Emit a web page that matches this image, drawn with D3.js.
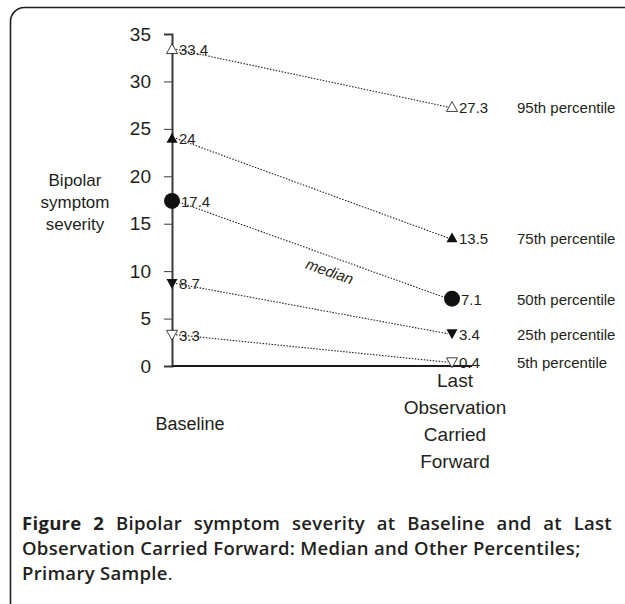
<!DOCTYPE html>
<html>
<head>
<meta charset="utf-8">
<script src="https://cdn.jsdelivr.net/npm/d3@7"></script>
<style>
  body { margin: 0; background: #fff; }
  svg { display: block; }
</style>
</head>
<body>
<div id="chart-container"></div>
<script>
// percentile series, top to bottom
const percentiles = ['95th percentile', '75th percentile', '50th percentile', '25th percentile', '5th percentile'];
const baselineValues = [33.4, 24, 17.4, 8.7, 3.3];
const locfValues = [27.3, 13.5, 7.1, 3.4, 0.4];
const markerTypes = ['openUp', 'up', 'circle', 'down', 'openDown'];
const timepoints = ['Baseline', 'LOCF'];
const yTicks = [0, 5, 10, 15, 20, 25, 30, 35];

const width = 625;
const height = 604;
const axisFont = 'Arial, "Liberation Sans", sans-serif';
const ink = '#231f20';

const svg = d3.create('svg')
  .attr('width', width)
  .attr('height', height)
  .attr('viewBox', [0, 0, width, height]);

// frame round the figure
svg.append('rect')
  .attr('x', 10.5).attr('y', 7.5)
  .attr('width', 640).attr('height', 620)
  .attr('rx', 14)
  .attr('fill', 'none')
  .attr('stroke', ink)
  .attr('stroke-width', 1.6);

const x = d3.scalePoint().domain(timepoints).range([172, 452]);
const y = d3.scaleLinear().domain([0, 35]).range([366, 34]);

// y axis
const yAxis = svg.append('g')
  .attr('transform', `translate(${x('Baseline')},0)`)
  .call(d3.axisLeft(y).tickValues(yTicks).tickSize(8).tickPadding(13));
yAxis.select('.domain').attr('stroke', '#3a3a3a').attr('stroke-width', 2);
yAxis.selectAll('.tick line').attr('stroke', '#3a3a3a').attr('stroke-width', 1);
yAxis.selectAll('.tick text')
  .attr('font-family', axisFont)
  .attr('font-size', 19)
  .attr('fill', ink);

// x axis baseline
svg.append('line')
  .attr('x1', x('Baseline')).attr('x2', 472)
  .attr('y1', y(0)).attr('y2', y(0))
  .attr('stroke', '#1a1a1a')
  .attr('stroke-width', 2);

// dotted connectors
const rows = percentiles.map((p, i) => ({
  label: p,
  b: baselineValues[i],
  l: locfValues[i],
  marker: markerTypes[i],
}));

svg.append('g')
  .selectAll('line')
  .data(rows)
  .join('line')
  .attr('x1', x('Baseline') + 4)
  .attr('y1', (d) => y(d.b))
  .attr('x2', x('LOCF') - 4)
  .attr('y2', (d) => y(d.l))
  .attr('stroke', '#222')
  .attr('stroke-width', 1.1)
  .attr('stroke-dasharray', '1.5,1.5');

// markers
function markerPath(type) {
  if (type === 'circle') return d3.symbol(d3.symbolCircle, 200)();
  const s = 5.5;
  if (type === 'up' || type === 'openUp') return `M0,${-s}L${s},${s * 0.8}L${-s},${s * 0.8}Z`;
  return `M0,${s}L${s},${-s * 0.8}L${-s},${-s * 0.8}Z`;
}

const pts = rows.flatMap((d) => [
  { t: 'Baseline', v: d.b, marker: d.marker },
  { t: 'LOCF', v: d.l, marker: d.marker },
]);

svg.append('g')
  .selectAll('path')
  .data(pts)
  .join('path')
  .attr('transform', (d) => `translate(${x(d.t)},${y(d.v)})`)
  .attr('d', (d) => markerPath(d.marker))
  .attr('fill', (d) => (d.marker.startsWith('open') ? '#fff' : '#111'))
  .attr('stroke', '#111')
  .attr('stroke-width', (d) => (d.marker.startsWith('open') ? 0.8 : 0));

// value labels
svg.append('g')
  .selectAll('text')
  .data(pts)
  .join('text')
  .attr('x', (d) => x(d.t) + (d.marker === 'circle' ? 9 : 7))
  .attr('y', (d) => y(d.v) + 6)
  .attr('font-family', axisFont)
  .attr('font-size', 15)
  .attr('fill', ink)
  .text((d) => d.v);

// percentile labels on the right
svg.append('g')
  .selectAll('text')
  .data(rows)
  .join('text')
  .attr('x', 517)
  .attr('y', (d) => y(d.l) + 6)
  .attr('font-family', axisFont)
  .attr('font-size', 15)
  .attr('fill', ink)
  .text((d) => d.label);

// "median" along the 50th line
const med = rows[2];
const mx = 328;
const my = y(med.b) + (y(med.l) - y(med.b)) * (mx - x('Baseline')) / (x('LOCF') - x('Baseline'));
const ang = Math.atan2(y(med.l) - y(med.b), x('LOCF') - x('Baseline')) * 180 / Math.PI;
svg.append('text')
  .attr('transform', `translate(${mx},${my + 21}) rotate(${ang})`)
  .attr('text-anchor', 'middle')
  .attr('font-family', axisFont)
  .attr('font-size', 15)
  .attr('font-style', 'italic')
  .attr('fill', ink)
  .text('median');

// y axis title
svg.append('text')
  .attr('text-anchor', 'middle')
  .attr('font-family', axisFont)
  .attr('font-size', 17)
  .attr('fill', ink)
  .selectAll('tspan')
  .data(['Bipolar', 'symptom', 'severity'])
  .join('tspan')
  .attr('x', 75)
  .attr('y', (d, i) => 186 + i * 22)
  .text((d) => d);

// x categories
svg.append('text')
  .attr('x', 190).attr('y', 430)
  .attr('text-anchor', 'middle')
  .attr('font-family', axisFont)
  .attr('font-size', 18)
  .attr('fill', ink)
  .text('Baseline');

svg.append('text')
  .attr('text-anchor', 'middle')
  .attr('font-family', axisFont)
  .attr('font-size', 19)
  .attr('fill', ink)
  .selectAll('tspan')
  .data(['Last', 'Observation', 'Carried', 'Forward'])
  .join('tspan')
  .attr('x', 455)
  .attr('y', (d, i) => 387 + i * 27)
  .text((d) => d);

// caption
const cap = svg.append('g')
  .attr('font-family', '"Open Sans", "Noto Sans", sans-serif')
  .attr('font-size', 18.5)
  .attr('font-weight', 600)
  .attr('letter-spacing', 0.3)
  .attr('fill', ink);

const l1 = cap.append('text').attr('x', 22).attr('y', 530);
l1.append('tspan').attr('font-weight', 700).text('Figure 2 ');
l1.append('tspan').text('Bipolar symptom severity at Baseline and at Last');

cap.append('text').attr('x', 22).attr('y', 555)
  .text('Observation Carried Forward: Median and Other Percentiles;');

const l3 = cap.append('text').attr('x', 22).attr('y', 580);
l3.append('tspan').text('Primary Sample');
l3.append('tspan').attr('font-weight', 400).text('.');

document.getElementById('chart-container').appendChild(svg.node());

// justify the first caption line to the right margin by widening word gaps
const target = 590;
const natural = l1.node().getComputedTextLength();
const gaps = 'Figure 2 Bipolar symptom severity at Baseline and at Last'.split(' ').length - 1;
if (natural < target) l1.attr('word-spacing', (target - natural) / gaps);
</script>
</body>
</html>
